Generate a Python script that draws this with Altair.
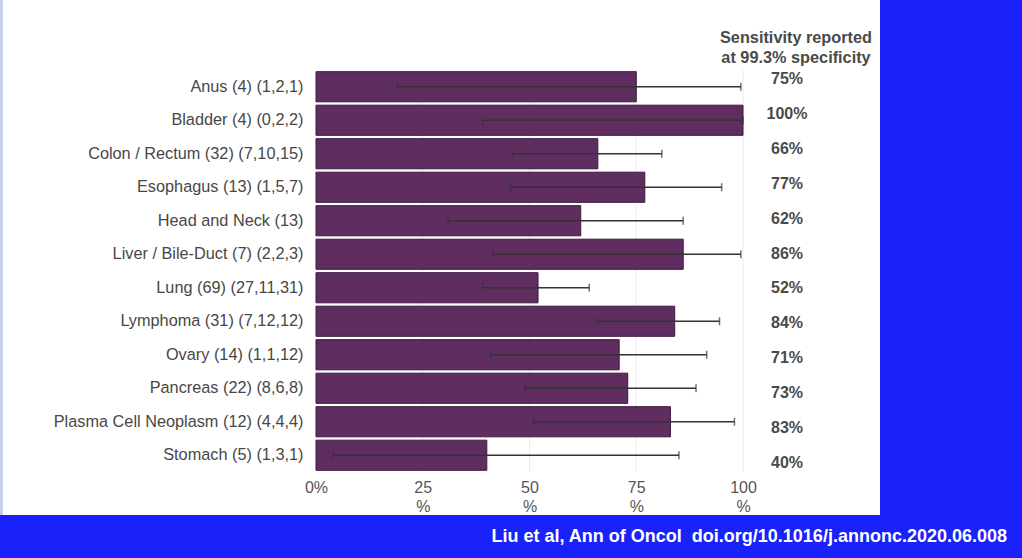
import altair as alt
import pandas as pd

cancers = ["Anus (4) (1,2,1)", "Bladder (4) (0,2,2)", "Colon / Rectum (32) (7,10,15)",
           "Esophagus (13) (1,5,7)", "Head and Neck (13)", "Liver / Bile-Duct (7) (2,2,3)",
           "Lung (69) (27,11,31)", "Lymphoma (31) (7,12,12)", "Ovary (14) (1,1,12)",
           "Pancreas (22) (8,6,8)", "Plasma Cell Neoplasm (12) (4,4,4)", "Stomach (5) (1,3,1)"]
sensitivity = [75, 100, 66, 77, 62, 86, 52, 84, 71, 73, 83, 40]
ci_low = [19, 39, 46, 45.5, 31, 41.5, 39, 66, 41, 49, 51, 4]
ci_high = [99.5, 100, 81, 95, 86, 99.5, 64, 94.5, 91.5, 89, 98, 85]
x_ticks = [0, 25, 50, 75, 100]
header = ["Sensitivity reported", "at 99.3% specificity"]
citation = "Liu et al, Ann of Oncol\u00a0 doi.org/10.1016/j.annonc.2020.06.008"

df = pd.DataFrame({
    "cancer": cancers,
    "sens": sensitivity,
    "lo": ci_low,
    "hi": ci_high,
    "label": [f"{v}%" for v in sensitivity],
})
grid_df = pd.DataFrame({"sens": x_ticks[1:]})

FONT = "Liberation Sans"
W, H = 427, 402
PL, PT = 316, 70

one = pd.DataFrame({"a": [0]})
panel = alt.Chart(one).mark_rect(color="white").encode(
    x=alt.value(-PL + 3), x2=alt.value(880 - PL),
    y=alt.value(-PT), y2=alt.value(515 - PT),
)
edge = alt.Chart(one).mark_rect(color="#c9cdf2").encode(
    x=alt.value(-PL), x2=alt.value(-PL + 3),
    y=alt.value(-PT), y2=alt.value(515 - PT),
)

ysort = alt.Y("cancer:N", sort=cancers,
              scale=alt.Scale(paddingInner=0.1, paddingOuter=0.05),
              axis=alt.Axis(title=None, domain=False, ticks=False, labelPadding=13,
                            labelFontSize=16.3, labelColor="#474747", labelFont=FONT,
                            labelLimit=400, zindex=1))

xscale = alt.Scale(domain=[0, 100], nice=False)
xaxis = alt.Axis(values=x_ticks, domain=False, ticks=False, grid=False,
                 labelExpr="datum.value == 0 ? '0%' : [format(datum.value, 'd'), '%']",
                 labelFontSize=16, labelColor="#555555", labelFont=FONT,
                 labelPadding=7, labelLineHeight=19, labelFlush=False,
                 title=None, zindex=1)

grid = alt.Chart(grid_df).mark_rule(color="#ececec", strokeWidth=1).encode(
    x=alt.X("sens:Q", scale=xscale, axis=xaxis))

bars = alt.Chart(df).mark_bar(color="#5f2d5f", stroke="#3b1a3b", strokeWidth=1).encode(
    x=alt.X("sens:Q", scale=xscale, axis=xaxis), y=ysort)

err = alt.Chart(df).mark_errorbar(ticks=alt.MarkConfig(size=8), color="#333333",
                                  thickness=1.5).encode(
    x=alt.X("lo:Q", title=None), x2="hi:Q", y=alt.Y("cancer:N", sort=cancers))

labels = alt.Chart(df).transform_window(
    idx="row_number()"
).transform_calculate(
    off="(datum.idx - 1) * 1.36 + 7.6"
).mark_text(font=FONT, fontSize=16, fontWeight="bold",
            color="#4a4a4a", align="center", baseline="middle").encode(
    x=alt.value(787 - PL),
    y=alt.Y("cancer:N", sort=cancers),
    yOffset=alt.YOffset("off:Q", scale=None),
    text="label:N")

cite = alt.Chart(pd.DataFrame({"t": [citation]})).mark_text(
    font=FONT, fontSize=18, fontWeight="bold", color="white",
    align="right", baseline="middle").encode(
    x=alt.value(1007 - PL), y=alt.value(537 - PT), text="t:N")

chart = alt.layer(edge, panel, grid, bars, err, labels, cite).properties(
    width=W, height=H,
    padding={"left": PL, "top": PT, "right": 1022 - PL - W, "bottom": 558 - PT - H},
    autosize=alt.AutoSizeParams(type="none"),
    background="#1a22fc",
    title=alt.TitleParams(header, anchor="end", align="center", frame="group",
                          dx=53, dy=66, offset=0,
                          fontSize=16.3, fontWeight="bold", color="#4a4a4a", font=FONT,
                          lineHeight=20),
).configure_view(stroke=None)

chart.save("out.html", embed_options={"renderer": "svg", "actions": False})
